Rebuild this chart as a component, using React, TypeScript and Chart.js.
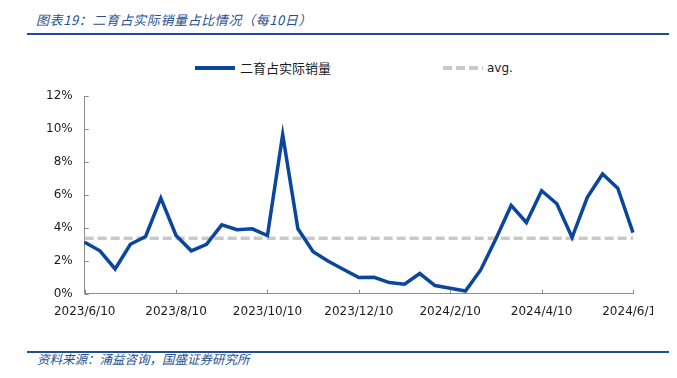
import React, { useEffect, useRef } from "react";
import { Chart, registerables } from "chart.js";

Chart.register(...registerables);

const TITLE = "图表19：二育占实际销量占比情况（每10日）";
const SOURCE = "资料来源：涌益咨询，国盛证券研究所";
const SERIES_NAME = "二育占实际销量";
const AVG_NAME = "avg.";

const CATEGORIES = [
  "2023/6/10", "2023/6/20", "2023/6/30", "2023/7/10", "2023/7/20", "2023/7/31",
  "2023/8/10", "2023/8/20", "2023/8/31", "2023/9/10", "2023/9/20", "2023/9/30",
  "2023/10/10", "2023/10/20", "2023/10/31", "2023/11/10", "2023/11/20", "2023/11/30",
  "2023/12/10", "2023/12/20", "2023/12/31", "2024/1/10", "2024/1/20", "2024/1/31",
  "2024/2/10", "2024/2/20", "2024/2/29", "2024/3/10", "2024/3/20", "2024/3/31",
  "2024/4/10", "2024/4/20", "2024/4/30", "2024/5/10", "2024/5/20", "2024/5/31",
  "2024/6/10",
];

const SHARE_VALUES = [
  3.12, 2.6, 1.5, 3.0, 3.47, 5.8,
  3.53, 2.6, 3.0, 4.18, 3.88, 3.94,
  3.53, 9.66, 3.94, 2.54, 1.97, 1.47,
  0.98, 0.99, 0.67, 0.57, 1.22, 0.49,
  0.32, 0.16, 1.44, 3.33, 5.36, 4.32,
  6.25, 5.46, 3.41, 5.85, 7.27, 6.41,
  3.71,
];

const AVG_VALUE = 3.37;

const X_TICK_LABELS = [
  "2023/6/10", "2023/8/10", "2023/10/10", "2023/12/10", "2024/2/10", "2024/4/10", "2024/6/10",
];

const Y_MIN = 0;
const Y_MAX = 12;
const Y_STEP = 2;

const BLUE = "#0a469e";
const AVG_GREY = "#c9c9c9";
const AXIS_GREY = "#8c8c8c";
const TITLE_BLUE = "#27508f";
const RULE_BLUE = "#1f4e96";

const innerTicks = {
  id: "innerTicks",
  afterDraw(chart: any) {
    const { ctx, chartArea, scales } = chart;
    const xs = scales.x;
    const ys = scales.y;
    ctx.save();
    ctx.strokeStyle = AXIS_GREY;
    ctx.lineWidth = 1;
    ctx.beginPath();
    CATEGORIES.forEach((c, i) => {
      if (X_TICK_LABELS.includes(c)) {
        const x = Math.round(xs.getPixelForValue(i)) + 0.5;
        ctx.moveTo(x, chartArea.bottom);
        ctx.lineTo(x, chartArea.bottom - 4);
      }
    });
    ys.ticks.forEach((t: any) => {
      const y = Math.round(ys.getPixelForValue(t.value)) + 0.5;
      ctx.moveTo(chartArea.left, y);
      ctx.lineTo(chartArea.left + 4, y);
    });
    ctx.stroke();
    ctx.restore();
  },
};

function LineChart() {
  const ref = useRef<HTMLCanvasElement | null>(null);
  useEffect(() => {
    if (!ref.current) return;
    const chart = new Chart(ref.current, {
      type: "line",
      data: {
        labels: CATEGORIES,
        datasets: [
          {
            label: SERIES_NAME,
            data: SHARE_VALUES,
            borderColor: BLUE,
            borderWidth: 3.5,
            pointRadius: 0,
            tension: 0,
            borderJoinStyle: "miter",
            order: 1,
          },
          {
            label: AVG_NAME,
            data: CATEGORIES.map(() => AVG_VALUE),
            borderColor: AVG_GREY,
            borderWidth: 3.5,
            borderDash: [9, 4],
            pointRadius: 0,
            tension: 0,
            order: 2,
          },
        ],
      },
      options: {
        responsive: false,
        animation: false,
        devicePixelRatio: 1,
        layout: { padding: { left: 34, right: 44, top: 2, bottom: 6 } },
        plugins: {
          legend: { display: false },
          tooltip: { enabled: false },
        },
        scales: {
          x: {
            type: "category",
            offset: false,
            grid: { display: false, drawTicks: false },
            border: { display: true, color: AXIS_GREY, width: 1 },
            ticks: {
              autoSkip: false,
              maxRotation: 0,
              minRotation: 0,
              padding: 11,
              color: "#1a1a1a",
              font: { family: "'DejaVu Sans'", size: 12 },
              callback: (_v: any, i: number) =>
                X_TICK_LABELS.includes(CATEGORIES[i]) ? CATEGORIES[i] : "",
            },
          },
          y: {
            min: Y_MIN,
            max: Y_MAX,
            grid: { display: false, drawTicks: false },
            border: { display: true, color: AXIS_GREY, width: 1 },
            ticks: {
              stepSize: Y_STEP,
              padding: 12,
              color: "#1a1a1a",
              font: { family: "'DejaVu Sans'", size: 12 },
              callback: (v: any) => `${v}%`,
            },
          },
        },
      },
      plugins: [innerTicks],
    });
    return () => chart.destroy();
  }, []);
  return <canvas ref={ref} width={677} height={259} style={{ display: "block" }} />;
}

export default function App() {
  const cjk = "'Noto Sans CJK SC', 'DejaVu Sans', sans-serif";
  return (
    <div
      style={{
        position: "relative",
        margin: "-8px 0 0 -8px",
        width: 677,
        height: 378,
        background: "#fff",
        overflow: "hidden",
      }}
    >
      <div
        style={{
          position: "absolute",
          left: 36,
          top: 10,
          fontFamily: cjk,
          fontStyle: "italic",
          fontSize: 13,
          lineHeight: "20px",
          letterSpacing: 0.6,
          color: TITLE_BLUE,
          whiteSpace: "nowrap",
        }}
      >
        {TITLE}
      </div>
      <div style={{ position: "absolute", left: 27, top: 33, width: 643, height: 2, background: RULE_BLUE }} />

      <div style={{ position: "absolute", left: 195, top: 66, width: 40, height: 3.5, background: BLUE }} />
      <div
        style={{
          position: "absolute",
          left: 240,
          top: 58,
          fontFamily: cjk,
          fontSize: 13,
          lineHeight: "20px",
          color: "#1a1a1a",
          whiteSpace: "nowrap",
        }}
      >
        {SERIES_NAME}
      </div>
      <div
        style={{
          position: "absolute",
          left: 443,
          top: 66,
          width: 40,
          height: 3.5,
          background: `repeating-linear-gradient(to right, ${AVG_GREY} 0px, ${AVG_GREY} 9px, transparent 9px, transparent 13px)`,
        }}
      />
      <div
        style={{
          position: "absolute",
          left: 487,
          top: 58,
          fontFamily: "'DejaVu Sans', sans-serif",
          fontSize: 12,
          lineHeight: "20px",
          color: "#1a1a1a",
          whiteSpace: "nowrap",
        }}
      >
        {AVG_NAME}
      </div>

      <div style={{ position: "absolute", left: 0, top: 77, width: 653, height: 259, overflow: "hidden" }}>
        <LineChart />
      </div>

      <div style={{ position: "absolute", left: 27, top: 351, width: 643, height: 2, background: RULE_BLUE }} />
      <div
        style={{
          position: "absolute",
          left: 37,
          top: 350,
          fontFamily: cjk,
          fontStyle: "italic",
          fontSize: 12.5,
          lineHeight: "18px",
          color: TITLE_BLUE,
          whiteSpace: "nowrap",
        }}
      >
        {SOURCE}
      </div>
    </div>
  );
}
